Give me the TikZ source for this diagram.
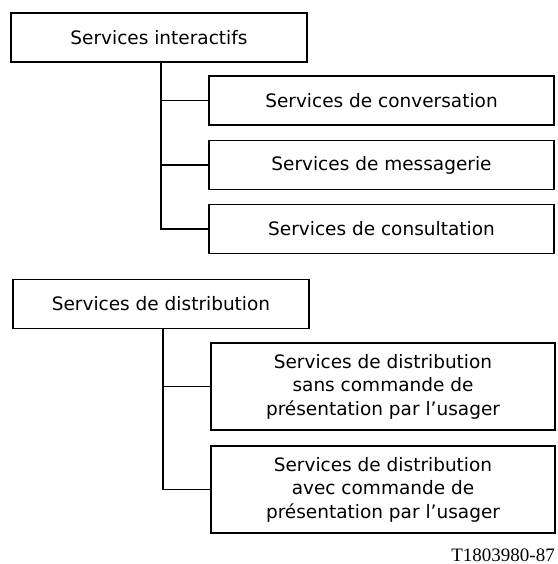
\documentclass[tikz,border=0pt]{standalone}
\usepackage{fontspec}
\setmainfont{DejaVu Sans}
\newfontfamily\refnumfont{Liberation Serif}
\begin{document}
\begin{tikzpicture}[x=1pt,y=-1pt,
  svcbox/.style={draw, line width=1.6pt, inner sep=0pt, align=center,
    font=\fontsize{18.5}{23.5}\selectfont},
  topbox/.style={svcbox, minimum width=296pt, minimum height=49pt},
  subbox/.style={svcbox, minimum width=345pt, minimum height=49pt},
  tallbox/.style={svcbox, minimum width=344pt, minimum height=87pt},
  link/.style={line width=1.2pt}
]
\useasboundingbox (0,0) rectangle (557,564);

% Interactive services
\node[topbox] (inter) at (159,37.5) {Services interactifs};
\node[subbox] (conv) at (381.5,100.5) {Services de conversation};
\node[subbox] (mess) at (381.5,165) {Services de messagerie};
\node[subbox] (cons) at (381.5,229) {Services de consultation};
\coordinate (t1) at (inter.south -| 161,0);

\draw[link] (t1) |- (cons.west);
\draw[link] (conv.west) -- (conv.west -| t1);
\draw[link] (mess.west) -- (mess.west -| t1);

% Distribution services
\node[topbox] (dist) at (161,304) {Services de distribution};
\node[tallbox] (sans) at (383,386.5) {Services de distribution\\sans commande de\\présentation par l’usager};
\node[tallbox] (avec) at (383,489.5) {Services de distribution\\avec commande de\\présentation par l’usager};
\coordinate (t2) at (dist.south -| 163,0);

\draw[link] (t2) |- (avec.west);
\draw[link] (sans.west) -- (sans.west -| t2);

% Reference number
\node[anchor=base east, inner sep=0pt, font=\refnumfont\fontsize{19}{21}\selectfont] (ref) at (555,561) {T1803980-87};
\end{tikzpicture}
\end{document}
